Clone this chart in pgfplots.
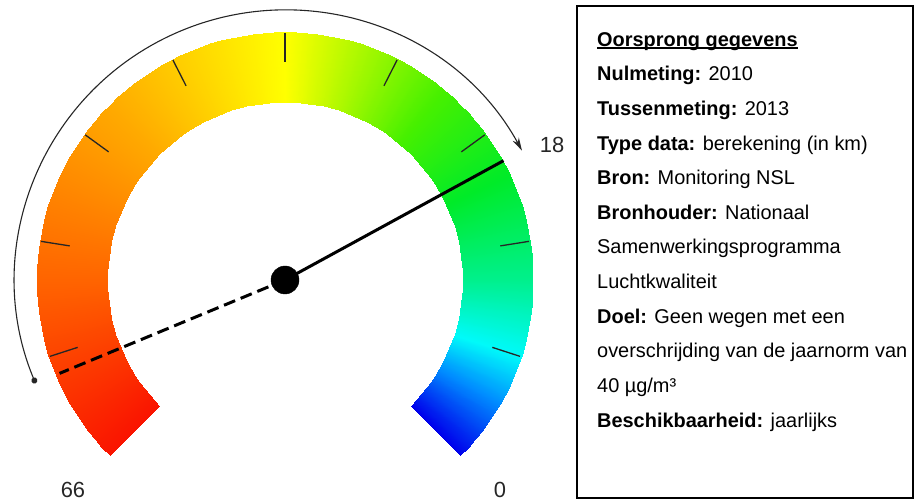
\documentclass[border=0pt]{standalone}
\usepackage{pgfplots}
\pgfplotsset{compat=1.18}
\usepackage{pgfplotstable}
\usepackage{fontspec}
\setmainfont{Liberation Sans}
\usetikzlibrary{arrows.meta}

% gauge values (km): 2010 baseline and 2013 measurement
\def\vbase{60.5}
\def\vnow{18}
\def\vmax{66}
\pgfmathsetmacro\abase{-45+270*\vbase/\vmax}
\pgfmathsetmacro\anow{-45+270*\vnow/\vmax}

\pgfplotstableread{
v r
18 0
18 249
}\needlenow
\pgfplotstableread{
v r
60.5 0
60.5 244
}\needlebase

\pgfplotsset{
  colormap={gauge}{
    rgb255(0pt)=(0,0,235)
    rgb255(15pt)=(0,140,255)
    rgb255(27pt)=(0,250,250)
    rgb255(45pt)=(0,240,140)
    rgb255(70pt)=(0,235,40)
    rgb255(95pt)=(70,240,0)
    rgb255(135pt)=(255,255,0)
    rgb255(180pt)=(255,170,0)
    rgb255(225pt)=(255,100,0)
    rgb255(270pt)=(250,20,0)
  }
}

\newlength\ulw
\newcommand\myul[1]{\settowidth\ulw{#1}\rlap{\rule[-2.6bp]{\ulw}{1.7bp}}#1}

\begin{document}
\begin{tikzpicture}
\begin{axis}[
  view={0}{90},
  width=917bp, height=501bp, scale only axis,
  xmin=0, xmax=917, ymin=0, ymax=501, zmin=0, zmax=270,
  hide axis, clip=false,
  colormap name=gauge,
]
\coordinate (bl) at (axis cs:0,0,0);
\coordinate (tr) at (axis cs:917,501,0);
% coloured dial (z carries the scale position, seen from above)
\addplot3[surf, shader=interp, domain=-45:225, samples=109,
  y domain=178:248, samples y=2,
  point meta=z, point meta min=0, point meta max=270]
  ({285+y*cos(x)}, {221+y*sin(x)}, {x+45});

% dial ticks
\pgfplotsinvokeforeach{198,171,144,117,90,63,36,9,-18}{
  \draw[line width=1.3bp, black!85] (axis cs:285,221,0) ++(#1:218bp) -- ++(#1:29bp);
}

% change arc from 2010 to 2013
\draw[line width=1.1bp, black!85, {Circle[length=6bp]}-{Stealth[length=13bp,width=7bp]}]
  (axis cs:285,221,0) ++(\abase:270bp) arc[start angle=\abase, end angle=\anow, radius=270bp];

% needles
\addplot[black, line width=3bp, dash pattern=on 12bp off 6bp] table[
  x expr={285+\thisrow{r}*cos(-45+270*\thisrow{v}/66)},
  y expr={221+\thisrow{r}*sin(-45+270*\thisrow{v}/66)}]{\needlebase};
\addplot[black, line width=3bp] table[
  x expr={285+\thisrow{r}*cos(-45+270*\thisrow{v}/66)},
  y expr={221+\thisrow{r}*sin(-45+270*\thisrow{v}/66)}]{\needlenow};
\addplot[only marks, mark=*, mark size=14bp, black, skip coords between index={1}{2}] table[
  x expr={285+\thisrow{r}*cos(-45+270*\thisrow{v}/66)},
  y expr={221+\thisrow{r}*sin(-45+270*\thisrow{v}/66)}]{\needlenow};

% scale labels
\node[font=\fontsize{22}{24}\selectfont, text=black!85] at (axis cs:73,11,0) {66};
\node[font=\fontsize{22}{24}\selectfont, text=black!85] at (axis cs:500,11,0) {0};
\node[font=\fontsize{22}{24}\selectfont, text=black!85] at (axis cs:552,356,0) {18};

% info box
\draw[line width=1.8bp] (axis cs:577,495,0) rectangle (axis cs:913,3,0);
\begin{scope}[every node/.style={anchor=base west, inner sep=0pt, font=\fontsize{20}{23}\selectfont}]
\node at (axis cs:597,454.6,0) {\bfseries\myul{Oorsprong gegevens}};
\node at (axis cs:597,420.0,0) {\textbf{Nulmeting:} 2010};
\node at (axis cs:597,385.4,0) {\textbf{Tussenmeting:} 2013};
\node at (axis cs:597,350.8,0) {\textbf{Type data:} berekening (in km)};
\node at (axis cs:597,316.2,0) {\textbf{Bron:} Monitoring NSL};
\node at (axis cs:597,281.6,0) {\textbf{Bronhouder:} Nationaal};
\node at (axis cs:597,247.0,0) {Samenwerkingsprogramma};
\node at (axis cs:597,212.4,0) {Luchtkwaliteit};
\node at (axis cs:597,177.8,0) {\textbf{Doel:} Geen wegen met een};
\node at (axis cs:597,143.2,0) {overschrijding van de jaarnorm van};
\node at (axis cs:597,108.6,0) {40 µg/m³};
\node at (axis cs:597,74.0,0) {\textbf{Beschikbaarheid:} jaarlijks};
\end{scope}
\end{axis}
\pgfresetboundingbox
\path[use as bounding box] (bl) rectangle (tr);
\end{tikzpicture}
\end{document}
